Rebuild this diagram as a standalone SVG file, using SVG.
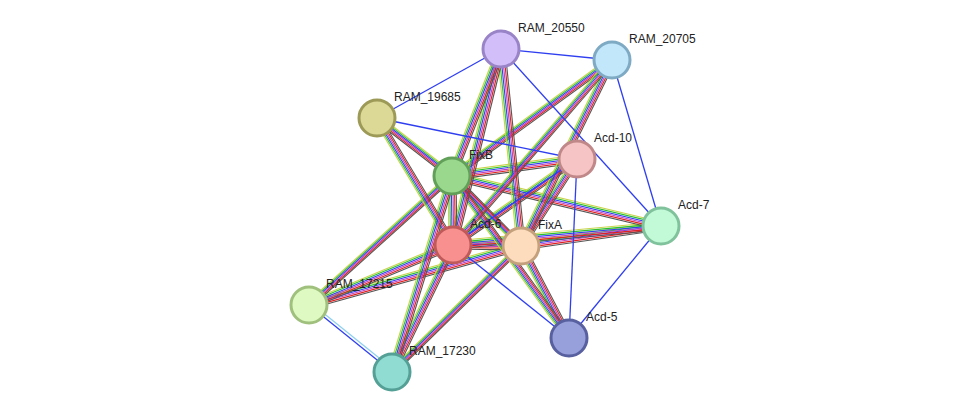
<svg xmlns="http://www.w3.org/2000/svg" xmlns:xlink="http://www.w3.org/1999/xlink" width="975" height="418" viewBox="0 0 975 418">
<style>
text{font-family:"Liberation Sans",Arial,sans-serif;font-size:12px;fill:#222}
.n{stroke-width:3}
#bh line,#bv line{stroke-width:1.1}
.blue{stroke:#2f3ff0;stroke-width:1.3}
</style>
<defs>
<g id="bh" fill="none">
<line x1="452" y1="176" x2="577" y2="159"/><line x1="452" y1="176" x2="661" y2="226"/><line x1="452" y1="176" x2="377" y2="118"/><line x1="452" y1="176" x2="309" y2="305"/><line x1="452" y1="176" x2="612" y2="60"/>
<line x1="453" y1="245" x2="521" y2="246"/><line x1="453" y1="245" x2="577" y2="159"/><line x1="453" y1="245" x2="661" y2="226"/><line x1="453" y1="245" x2="309" y2="305"/>
<line x1="521" y1="246" x2="661" y2="226"/><line x1="521" y1="246" x2="309" y2="305"/><line x1="521" y1="246" x2="392" y2="372"/>
</g>
<g id="bv" fill="none">
<line x1="452" y1="176" x2="453" y2="245"/><line x1="452" y1="176" x2="521" y2="246"/><line x1="452" y1="176" x2="501" y2="49"/><line x1="452" y1="176" x2="392" y2="372"/><line x1="452" y1="176" x2="569" y2="338"/>
<line x1="453" y1="245" x2="501" y2="49"/><line x1="453" y1="245" x2="612" y2="60"/><line x1="453" y1="245" x2="377" y2="118"/><line x1="453" y1="245" x2="392" y2="372"/>
<line x1="521" y1="246" x2="577" y2="159"/><line x1="521" y1="246" x2="501" y2="49"/><line x1="521" y1="246" x2="612" y2="60"/><line x1="521" y1="246" x2="569" y2="338"/>
</g>
</defs>
<g id="connectors">
<use xlink:href="#bh" stroke="#c8d44a" transform="translate(0,-4)"/>
<use xlink:href="#bh" stroke="#2cc02c" transform="translate(0,-2.4)"/>
<use xlink:href="#bh" stroke="#2f3ff0" transform="translate(0,-0.8)"/>
<use xlink:href="#bh" stroke="#c040c0" transform="translate(0,0.8)"/>
<use xlink:href="#bh" stroke="#e02020" transform="translate(0,2.4)"/>
<use xlink:href="#bh" stroke="#555" transform="translate(0,4)"/>
<use xlink:href="#bv" stroke="#c8d44a" transform="translate(-4,0)"/>
<use xlink:href="#bv" stroke="#2cc02c" transform="translate(-2.4,0)"/>
<use xlink:href="#bv" stroke="#2f3ff0" transform="translate(-0.8,0)"/>
<use xlink:href="#bv" stroke="#c040c0" transform="translate(0.8,0)"/>
<use xlink:href="#bv" stroke="#e02020" transform="translate(2.4,0)"/>
<use xlink:href="#bv" stroke="#555" transform="translate(4,0)"/>
<line class="blue" x1="501" y1="49" x2="612" y2="60"/>
<line class="blue" x1="501" y1="49" x2="377" y2="118"/>
<line class="blue" x1="377" y1="118" x2="577" y2="159"/>
<line class="blue" x1="501" y1="49" x2="661" y2="226"/>
<line class="blue" x1="612" y1="60" x2="661" y2="226"/>
<line class="blue" x1="577" y1="159" x2="569" y2="338"/>
<line class="blue" x1="661" y1="226" x2="569" y2="338"/>
<line class="blue" x1="453" y1="245" x2="569" y2="338"/>
<line class="blue" x1="577" y1="159" x2="453" y2="245"/>
<line class="blue" x1="309" y1="305" x2="392" y2="372"/>
<line x1="311" y1="303" x2="394" y2="370" stroke="#8fd0f0" stroke-width="1.3"/>
</g>
<g id="RAM_20550"><circle class="n" cx="501" cy="49" r="18" fill="#d2bffa" stroke="#9a84c8"/><text x="518" y="32">RAM_20550</text></g>
<g id="RAM_20705"><circle class="n" cx="612" cy="60" r="18" fill="#c2e6fa" stroke="#7eaac4"/><text x="629" y="43">RAM_20705</text></g>
<g id="RAM_19685"><circle class="n" cx="377" cy="118" r="18" fill="#dcd896" stroke="#9c9a56"/><text x="394" y="101">RAM_19685</text></g>
<g id="Acd-10"><circle class="n" cx="577" cy="159" r="18" fill="#f6c4c4" stroke="#c08888"/><text x="594" y="142">Acd-10</text></g>
<g id="FixB"><circle class="n" cx="452" cy="176" r="18" fill="#9ad88e" stroke="#62a05a"/><text x="469" y="159">FixB</text></g>
<g id="Acd-7"><circle class="n" cx="661" cy="226" r="18" fill="#c2fad8" stroke="#80c29c"/><text x="678" y="209">Acd-7</text></g>
<g id="Acd-6"><circle class="n" cx="453" cy="245" r="18" fill="#f89090" stroke="#c05a5a"/><text x="470" y="228">Acd-6</text></g>
<g id="FixA"><circle class="n" cx="521" cy="246" r="18" fill="#fcdcbc" stroke="#c4a07c"/><text x="538" y="229">FixA</text></g>
<g id="RAM_17215"><circle class="n" cx="309" cy="305" r="18" fill="#defac2" stroke="#a0c07e"/><text x="326" y="288">RAM_17215</text></g>
<g id="Acd-5"><circle class="n" cx="569" cy="338" r="18" fill="#98a0dc" stroke="#5860a0"/><text x="586" y="321">Acd-5</text></g>
<g id="RAM_17230"><circle class="n" cx="392" cy="372" r="18" fill="#90dcd2" stroke="#54a096"/><text x="409" y="355">RAM_17230</text></g>
</svg>
